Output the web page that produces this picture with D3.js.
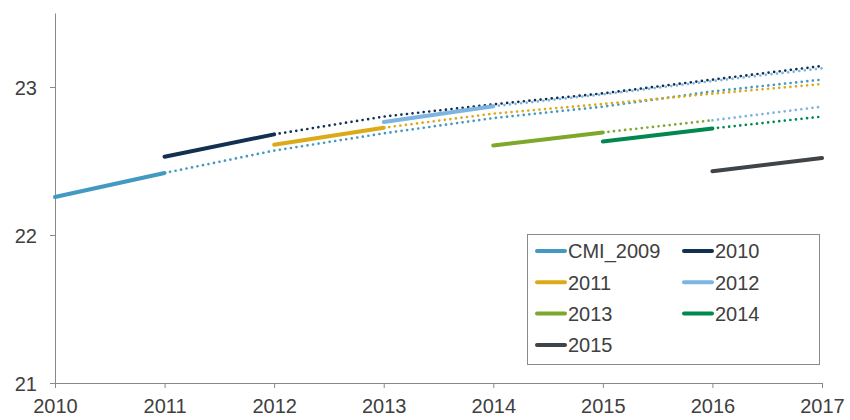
<!DOCTYPE html>
<html>
<head>
<meta charset="utf-8">
<script src="https://cdn.jsdelivr.net/npm/d3@7"></script>
<style>
  body { margin: 0; background: #fff; }
  text { font-family: "Liberation Sans", Arial, sans-serif; }
</style>
</head>
<body>
<div id="chart"></div>
<script>
// years on the x axis
var years = [2010, 2011, 2012, 2013, 2014, 2015, 2016, 2017]
var yTicks = [21, 22, 23]

// each vintage: first year is actual (solid), the rest is projection (dotted)
var names  = ["CMI_2009", "2010", "2011", "2012", "2013", "2014", "2015"]
var colors = ["#4299c2", "#12304f", "#ddaa17", "#7db4e2", "#7da82c", "#00884f", "#3f4448"]
var cmi2009 = [22.257, 22.419, 22.57, 22.687, 22.79, 22.867, 22.97, 23.05]
var v2010   = [null, 22.529, 22.68, 22.80, 22.883, 22.957, 23.05, 23.142]
var v2011   = [null, null, 22.61, 22.725, 22.82, 22.885, 22.955, 23.02]
var v2012   = [null, null, null, 22.764, 22.87, 22.95, 23.04, 23.126]
var v2013   = [null, null, null, null, 22.605, 22.693, 22.775, 22.867]
var v2014   = [null, null, null, null, null, 22.632, 22.72, 22.80]
var v2015   = [null, null, null, null, null, null, 22.43, 22.52]
var values = [cmi2009, v2010, v2011, v2012, v2013, v2014, v2015]
// the last dotted piece of 2013 is drawn in the 2012 colour in the original
var tailColor = { "2013": "#7db4e2" }

var W = 850, H = 420
var margin = {top: 13, right: 28, bottom: 37, left: 55}

var svg = d3.select("#chart").append("svg")
	.attr("width", W)
	.attr("height", H)

var x = d3.scaleLinear()
	.domain([2010, 2017])
	.range([margin.left, W - margin.right])
var y = d3.scaleLinear()
	.domain([21, 23.5])
	.range([H - margin.bottom, margin.top])

var axisColor = "#898989"
var textColor = "#404040"

// axes
var gy = svg.append("g")
	.attr("transform", "translate(" + margin.left + ",0)")
	.call(d3.axisLeft(y).tickValues(yTicks).tickFormat(d3.format("d")).tickSize(5).tickSizeOuter(0).tickPadding(13))
var gx = svg.append("g")
	.attr("transform", "translate(0," + (H - margin.bottom) + ")")
	.call(d3.axisBottom(x).tickValues(years).tickFormat(d3.format("d")).tickSize(5).tickSizeOuter(0).tickPadding(11))

;[gx, gy].forEach(function(g) {
	g.select(".domain").attr("stroke", axisColor)
	g.selectAll(".tick line").attr("stroke", axisColor)
	g.selectAll(".tick text")
		.attr("fill", textColor)
		.style("font-size", "20px")
		.style("font-family", "Liberation Sans, Arial, sans-serif")
})
gy.selectAll(".tick text").attr("dy", "0.36em")

var line = d3.line()
	.x(function(d) { return x(d[0]) })
	.y(function(d) { return y(d[1]) })

var lines = svg.append("g")

names.forEach(function(name, i) {
	var pts = []
	years.forEach(function(yr, j) {
		if (values[i][j] != null) pts.push([yr, values[i][j]])
	})
	var solid = pts.slice(0, 2)
	var proj = pts.slice(1)
	var tail = null
	if (tailColor[name] && proj.length > 1) {
		tail = proj.slice(proj.length - 2)
		proj = proj.slice(0, proj.length - 1)
	}
	if (proj.length > 1) {
		lines.append("path")
			.attr("d", line(proj))
			.attr("fill", "none")
			.attr("stroke", colors[i])
			.attr("stroke-width", 2.7)
			.attr("stroke-linecap", "round")
			.attr("stroke-dasharray", "0 5.6")
	}
	if (tail) {
		lines.append("path")
			.attr("d", line(tail))
			.attr("fill", "none")
			.attr("stroke", tailColor[name])
			.attr("stroke-width", 2.7)
			.attr("stroke-linecap", "round")
			.attr("stroke-dasharray", "0 5.6")
	}
	lines.append("path")
		.attr("d", line(solid))
		.attr("fill", "none")
		.attr("stroke", colors[i])
		.attr("stroke-width", 4)
		.attr("stroke-linecap", "round")
})

// legend
var legend = svg.append("g")
legend.append("rect")
	.attr("x", 527.5)
	.attr("y", 234.5)
	.attr("width", 292)
	.attr("height", 130)
	.attr("fill", "#fff")
	.attr("stroke", "#8a8a8a")
	.attr("stroke-width", 1)

names.forEach(function(name, i) {
	var col = i % 2, row = Math.floor(i / 2)
	var lx = 537 + col * 147
	var ly = 251 + row * 31.3
	legend.append("line")
		.attr("x1", lx).attr("x2", lx + 28)
		.attr("y1", ly).attr("y2", ly)
		.attr("stroke", colors[i])
		.attr("stroke-width", 4)
		.attr("stroke-linecap", "round")
	legend.append("text")
		.attr("x", lx + 31)
		.attr("y", ly)
		.attr("dy", "0.36em")
		.attr("fill", textColor)
		.style("font-size", "20px")
		.text(name)
})
</script>
</body>
</html>
